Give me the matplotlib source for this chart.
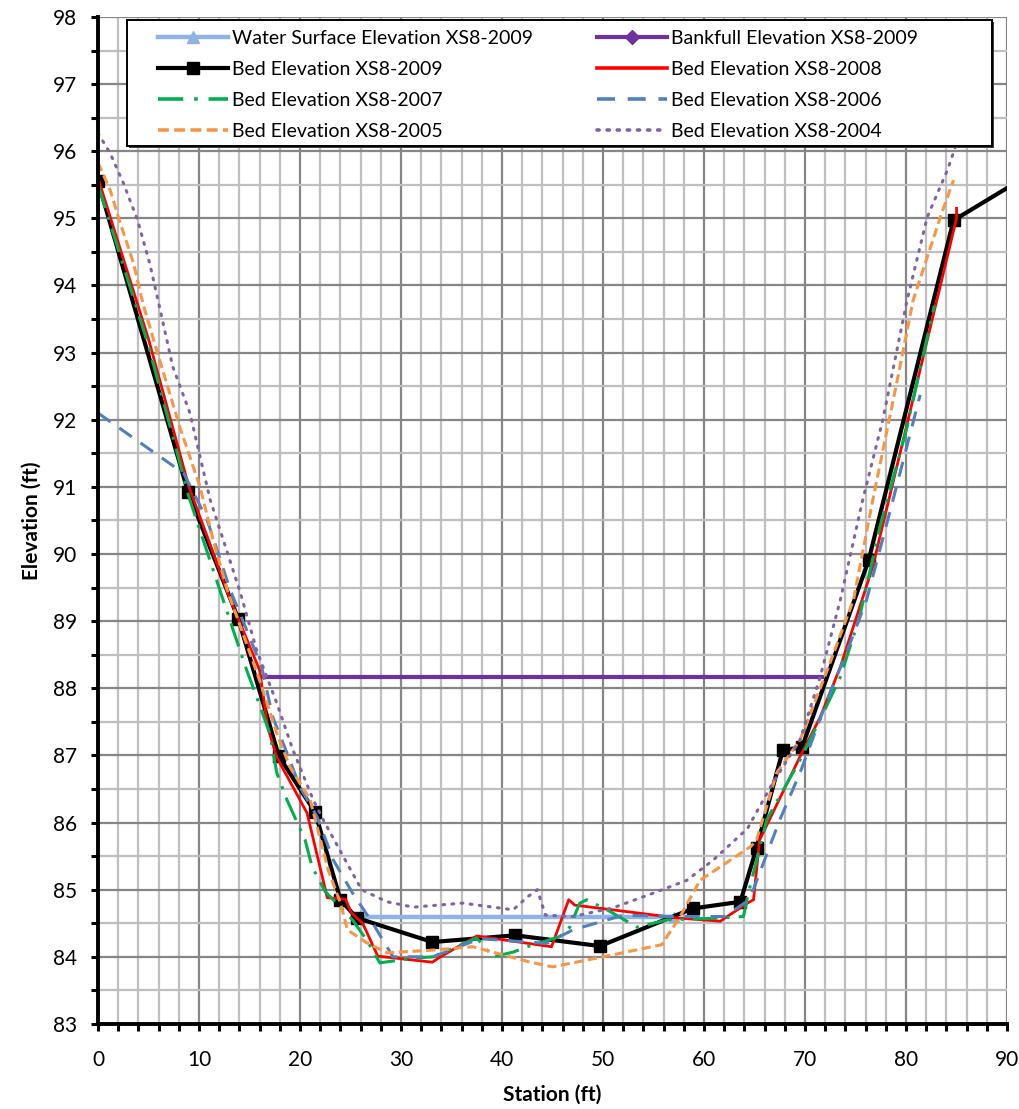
import numpy as np
import matplotlib
matplotlib.use("Agg")
import matplotlib.pyplot as plt
import matplotlib.transforms as mtransforms
from matplotlib.lines import Line2D
from matplotlib.patches import Rectangle
from matplotlib.ticker import MultipleLocator

plt.rcParams['font.family'] = ['Lato', 'DejaVu Sans']

# surveyed cross-section XS8, station (ft) vs elevation (ft)
wse_x = [26.0, 57.0]
wse_y = [84.59, 84.59]

bankfull_x = [16.2, 71.7]
bankfull_y = [88.17, 88.17]

bed2009_x = [0, 8.9, 13.9, 17.9, 21.5, 24.0, 25.6, 33.1, 41.3, 49.7, 58.9, 63.6, 65.2, 67.8, 69.7, 76.3, 84.7, 100]
bed2009_y = [95.55, 90.93, 89.03, 86.99, 86.15, 84.85, 84.58, 84.22, 84.32, 84.16, 84.72, 84.82, 85.62, 87.08, 87.12, 89.91, 94.97, 96.36]

bed2008_x = [0, 5, 9, 13.1, 16.0, 16.8, 17.7, 19.3, 20.7, 22.7, 24.5, 25.1, 26.2, 27.7, 33.1, 33.9, 37.5, 44.9,
             46.6, 47.2, 57.3, 61.6, 64.3, 64.9, 65.5, 69.5, 71.5, 73.5, 76.7, 85.0, 85.0]
bed2008_y = [95.6, 93.2, 91.0, 89.32, 88.27, 87.42, 86.97, 86.53, 86.14, 84.88, 84.86, 84.65, 84.50, 84.01, 83.92, 84.0, 84.31, 84.15,
             84.85, 84.77, 84.58, 84.53, 84.80, 84.85, 85.74, 86.98, 87.57, 88.32, 89.81, 95.0, 95.15]

bed2007_x = [0, 5, 9, 12.4, 14.6, 15.8, 17.0, 17.7, 18.7, 20.5, 21.2, 22.5, 24.0, 25.2, 26.6, 27.9, 31.2, 33.2, 37.5,
             39.1, 41.1, 42.5, 45.7, 46.7, 47.7, 48.4, 50.4, 53.4, 56.3, 61.9, 63.9, 64.3, 65.2, 66.2, 69.5,
             71.8, 73.5, 75.4, 77.4, 80.1, 82.8]
bed2007_y = [95.5, 93.1, 90.85, 89.31, 88.32, 87.83, 87.33, 86.74, 86.34, 85.74, 85.34, 84.97, 84.74, 84.55, 84.25, 83.91, 83.98, 84.0, 84.28,
             84.0, 84.07, 84.15, 84.3, 84.44, 84.8, 84.85, 84.70, 84.44, 84.55, 84.58, 84.6, 84.89, 85.44, 86.04, 86.93,
             87.63, 88.17, 89.06, 90.4, 91.89, 93.7]

bed2006_x = [0, 8.5, 10.8, 13.1, 16.2, 17.3, 18.7, 20.0, 21.7, 23.3, 25.2, 27.2, 29.2, 33.2, 37.8, 44.4, 47.0,
             52.0, 57.0, 62.0, 64.5, 67.5, 69.5, 72.2, 74.2, 76.1, 78.7, 81.4]
bed2006_y = [92.1, 91.2, 90.51, 89.46, 88.32, 87.57, 87.04, 86.53, 86.08, 85.44, 84.95, 84.5, 84.0, 84.0, 84.27, 84.2, 84.4,
             84.62, 84.6, 84.6, 84.85, 86.04, 86.74, 87.83, 88.57, 89.32, 90.8, 92.37]

bed2005_x = [0, 1.2, 2.2, 3.5, 4.5, 6.4, 8.1, 10.1, 11.4, 12.8, 16.0, 17.7, 19.0, 21.0, 22.8, 24.0, 24.7, 26.6,
             28.6, 33.2, 37.1, 42.8, 45.0, 50.0, 55.8, 57.6, 59.6, 64.6, 65.2, 67.2, 69.5, 72.2, 74.8, 76.7,
             79.4, 80.7, 83.4, 84.7]
bed2005_y = [95.83, 95.42, 94.93, 94.34, 93.70, 92.74, 91.89, 91.0, 90.21, 89.46, 88.12, 87.33, 86.83, 86.34, 85.29, 84.80, 84.40, 84.21,
             84.06, 84.10, 84.15, 83.92, 83.85, 84.0, 84.18, 84.59, 85.14, 85.64, 85.74, 86.74, 87.23, 88.27, 89.32, 90.8,
             92.79, 93.78, 95.02, 95.57]

bed2004_x = [0, 1.2, 2.5, 3.9, 5.1, 6.0, 7.4, 9.1, 10.1, 11.1, 12.4, 14.1, 15.7, 17.7, 19.3, 21.3, 22.3, 24.3,
             26.1, 28.6, 31.2, 36.1, 41.1, 42.5, 43.5, 44.3, 47.0, 51.0, 55.0, 58.3, 60.9, 64.3, 66.8, 69.5,
             71.5, 73.5, 75.7, 77.7, 80.1, 82.1, 84.1, 85.2]
bed2004_y = [96.27, 95.97, 95.53, 94.98, 94.34, 93.74, 92.79, 92.1, 91.45, 90.81, 90.21, 89.42, 88.57, 87.78, 87.08, 86.34, 86.04, 85.49,
             85.0, 84.82, 84.74, 84.80, 84.70, 84.89, 85.0, 84.62, 84.6, 84.73, 84.95, 85.14, 85.44, 85.91, 86.59, 87.23,
             88.17, 89.32, 90.8, 92.0, 93.78, 95.02, 95.72, 96.2]

fig = plt.figure(figsize=(10.2, 11.09), dpi=100)
ax = fig.add_axes([0.0961, 0.0767, 0.8912, 0.908])

ax.plot(wse_x, wse_y, color='#8DB4E2', lw=3.2, marker='^', ms=7, zorder=3)
ax.plot(bankfull_x, bankfull_y, color='#7030A0', lw=3.0, zorder=3)
ax.plot(bed2009_x, bed2009_y, color='black', lw=3.0, marker='s', ms=9, zorder=4)
ax.plot(bed2008_x, bed2008_y, color='#FF0000', lw=2.0, zorder=5)
ax.plot(bed2007_x, bed2007_y, color='#00B050', lw=2.2, dashes=(8, 3, 1, 3), zorder=5)
ax.plot(bed2006_x, bed2006_y, color='#4F81BD', lw=2.2, dashes=(5, 3.5), zorder=5)
ax.plot(bed2005_x, bed2005_y, color='#F79646', lw=2.2, dashes=(3, 1.5), zorder=5)
ax.plot(bed2004_x, bed2004_y, color='#8064A2', lw=2.2, dashes=(0.6, 2.4),
        dash_capstyle='round', zorder=5)

ax.set_xlim(0, 90)
ax.set_ylim(83, 98)
ax.xaxis.set_major_locator(MultipleLocator(10))
ax.xaxis.set_minor_locator(MultipleLocator(2))
ax.yaxis.set_major_locator(MultipleLocator(1))
ax.yaxis.set_minor_locator(MultipleLocator(0.5))

ax.grid(which='major', color='#868686', lw=1.6, zorder=0)
ax.grid(which='minor', color='#BFBFBF', lw=1.6, zorder=0)
ax.set_axisbelow(True)

for side in ('top', 'right'):
    ax.spines[side].set_visible(False)
for side in ('left', 'bottom'):
    ax.spines[side].set_linewidth(2.8)
    ax.spines[side].set_zorder(6)

ax.tick_params(which='both', direction='out', length=5, width=2.2, color='black')
ax.tick_params(axis='y', which='major', labelsize=15, pad=10)
ax.tick_params(axis='x', which='major', labelsize=15, pad=14)

ax.set_xlabel('Station (ft)', fontsize=15, fontweight='bold', labelpad=10)
ax.set_ylabel('Elevation (ft)', fontsize=15, fontweight='bold', labelpad=8)

# legend box drawn by hand so the entries can sit inside it freely
shadow = Rectangle((0.032, 0.872), 0.951, 0.125, transform=mtransforms.offset_copy(
    ax.transAxes, fig=fig, x=2, y=-2, units='dots'),
    facecolor='#404040', edgecolor='none', zorder=9)
box = Rectangle((0.032, 0.872), 0.951, 0.125, transform=ax.transAxes,
                facecolor='white', edgecolor='black', lw=1.4, zorder=9)
ax.add_patch(shadow)
ax.add_patch(box)

h_wse = Line2D([], [], color='#8DB4E2', lw=3.2, marker='^', ms=9)
h_bank = Line2D([], [], color='#7030A0', lw=3.0, marker='D', ms=7)
h_2009 = Line2D([], [], color='black', lw=3.0, marker='s', ms=9)
h_2008 = Line2D([], [], color='#FF0000', lw=2.6)
h_2007 = Line2D([], [], color='#00B050', lw=2.6, dashes=(7, 3, 1, 3))
h_2006 = Line2D([], [], color='#4F81BD', lw=2.6, dashes=(5, 3.5))
h_2005 = Line2D([], [], color='#F79646', lw=2.6, dashes=(3, 1.5))
h_2004 = Line2D([], [], color='#8064A2', lw=2.6, dashes=(0.6, 2.2), dash_capstyle='round')

# two columns, filled row by row
handles = [h_wse, h_2009, h_2007, h_2005, h_bank, h_2008, h_2006, h_2004]
labels = ['Water Surface Elevation XS8-2009', 'Bed Elevation XS8-2009',
          'Bed Elevation XS8-2007', 'Bed Elevation XS8-2005',
          'Bankfull Elevation XS8-2009', 'Bed Elevation XS8-2008',
          'Bed Elevation XS8-2006', 'Bed Elevation XS8-2004']

leg = ax.legend(handles, labels, ncol=2, loc='upper left',
                bbox_to_anchor=(0.066, 0.987), borderaxespad=0, borderpad=0,
                fontsize=14, handlelength=3.6, handletextpad=0.2,
                labelspacing=0.72, columnspacing=3.3, frameon=False)
leg.set_zorder(10)

fig.savefig('out.png', dpi=100)
